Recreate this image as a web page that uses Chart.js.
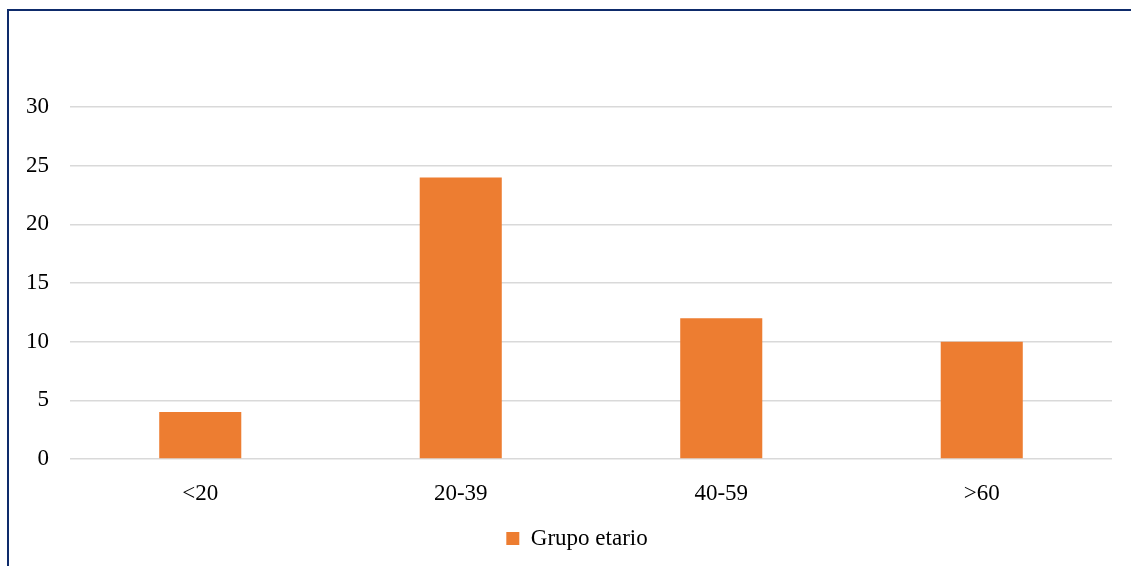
<!DOCTYPE html>
<html>
<head>
<meta charset="utf-8">
<script src="https://cdn.jsdelivr.net/npm/chart.js@4"></script>
<style>
  html, body { margin: 0; padding: 0; background: #fff; overflow: hidden; }
  .frame {
    position: absolute; left: 7px; top: 9px; width: 1200px; height: 700px;
    border-left: 2px solid #0e2b6b; border-top: 2px solid #0e2b6b;
  }
  .wrap { position: absolute; left: 0; top: 0; width: 1131px; height: 566px; }
</style>
</head>
<body>
<div class="frame"></div>
<div class="wrap"><canvas id="chart"></canvas></div>
<script>
// data
const categories = ['<20', '20-39', '40-59', '>60'];
const grupoEtario = [4, 24, 12, 10];
const seriesLabel = 'Grupo etario';

const serif = "'Liberation Serif', 'Times New Roman', serif";
Chart.defaults.font.family = serif;
Chart.defaults.color = '#000';

// nudge the legend a bit right/down, like the original
const legendShift = {
  id: 'legendShift',
  afterLayout(chart) {
    const lg = chart.legend;
    if (!lg) return;
    lg.left += 21; lg.right += 21;
    lg.top += 2; lg.bottom += 2;
  }
};

new Chart(document.getElementById('chart'), {
  type: 'bar',
  data: {
    labels: categories,
    datasets: [{
      label: seriesLabel,
      data: grupoEtario,
      backgroundColor: '#ed7d31',
      barPercentage: 0.315,
      categoryPercentage: 1
    }]
  },
  options: {
    responsive: true,
    maintainAspectRatio: false,
    animation: false,
    layout: { padding: { left: 0, right: 19, top: 107, bottom: 8 } },
    plugins: {
      tooltip: { enabled: false },
      legend: {
        position: 'bottom',
        labels: {
          boxWidth: 13, boxHeight: 13, padding: 6,
          font: { size: 23, family: serif }, color: '#000'
        }
      }
    },
    scales: {
      x: {
        grid: { display: false },
        border: { display: false },
        ticks: { font: { size: 23 }, padding: 13, color: '#000' },
        afterFit: (scale) => { scale.height = 60; }
      },
      y: {
        min: 0, max: 30,
        ticks: { stepSize: 5, font: { size: 23 }, padding: 21, color: '#000' },
        grid: { color: '#d9d9d9', lineWidth: 1.5, drawTicks: false },
        border: { display: false },
        afterFit: (scale) => { scale.width = 70; }
      }
    }
  },
  plugins: [legendShift]
});
</script>
</body>
</html>
